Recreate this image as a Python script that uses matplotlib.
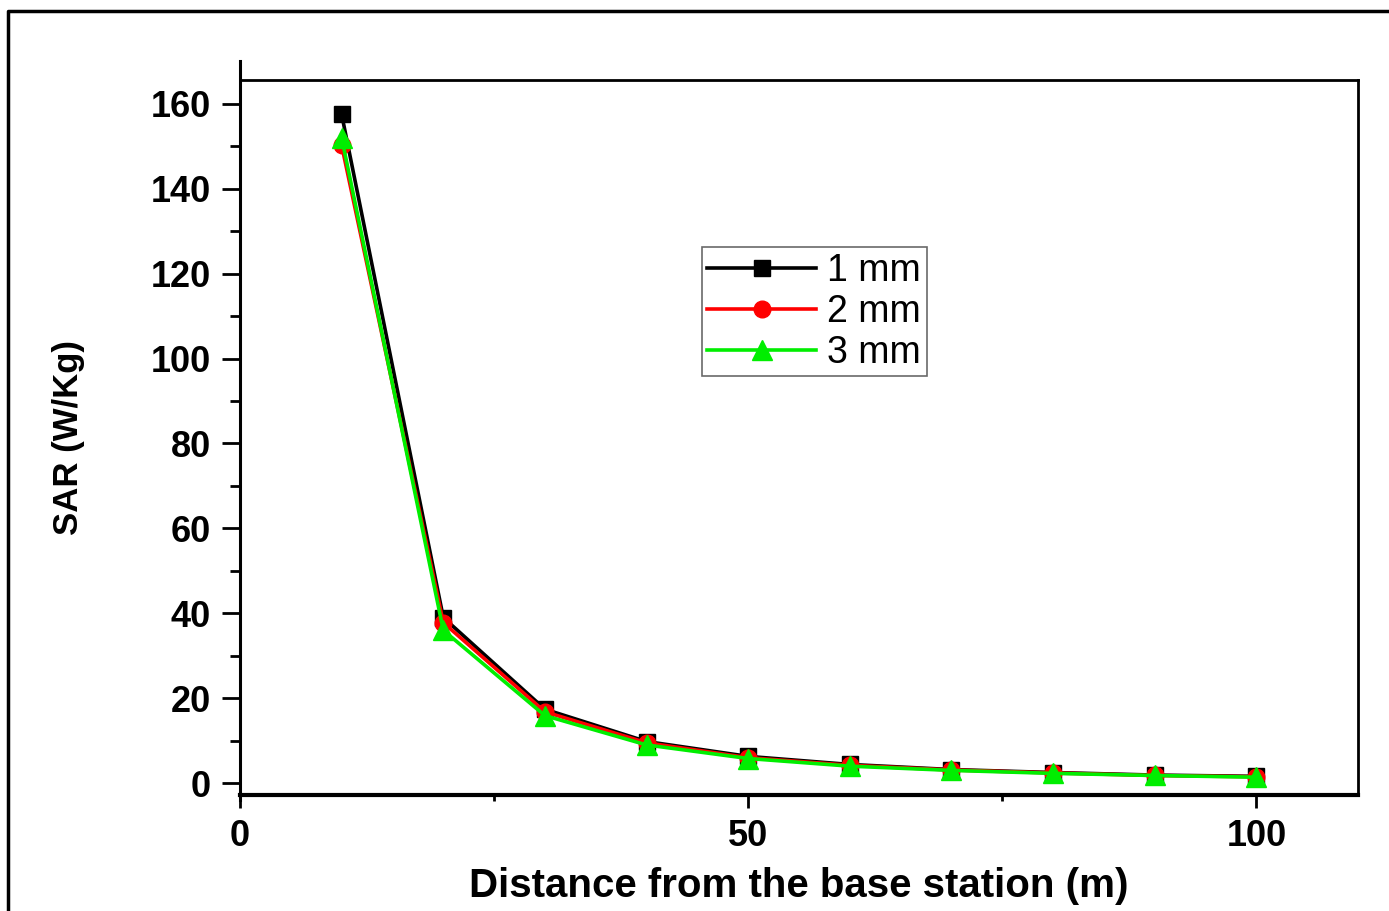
import matplotlib.pyplot as plt
from matplotlib.lines import Line2D
from matplotlib.ticker import MultipleLocator

plt.rcParams['font.family'] = ['Liberation Sans', 'DejaVu Sans']

# dane
distance = [10, 20, 30, 40, 50, 60, 70, 80, 90, 100]
sar_1mm = [157.5, 39.0, 17.4, 9.8, 6.3, 4.4, 3.2, 2.5, 1.9, 1.6]
sar_2mm = [150.2, 37.8, 16.8, 9.5, 6.0, 4.2, 3.1, 2.4, 1.8, 1.5]
sar_3mm = [152.0, 36.0, 15.9, 9.0, 5.8, 4.0, 3.0, 2.3, 1.8, 1.4]
labels = ['1 mm', '2 mm', '3 mm']

fig = plt.figure(figsize=(13.89, 9.11), dpi=100)
ax = fig.add_axes([0.1728, 0.1273, 0.8049, 0.7849])

ax.plot(distance, sar_1mm, color='black', lw=2.6, marker='s', ms=12, label=labels[0])
ax.plot(distance, sar_2mm, color='#ff0000', lw=2.6, marker='o', ms=12, label=labels[1])
ax.plot(distance, sar_3mm, color='#00ee00', lw=2.6, marker='^', ms=14, label=labels[2])

ax.set_xlim(0, 110)
ax.set_ylim(-2.8, 165.6)

ax.xaxis.set_major_locator(MultipleLocator(50))
ax.xaxis.set_minor_locator(MultipleLocator(25))
ax.yaxis.set_major_locator(MultipleLocator(20))
ax.yaxis.set_minor_locator(MultipleLocator(10))

ax.tick_params(axis='y', which='major', direction='out', length=13, width=2, labelsize=26, pad=8)
ax.tick_params(axis='y', which='minor', direction='out', length=7, width=2)
ax.tick_params(axis='x', which='major', direction='out', length=9, width=2, labelsize=26, pad=8)
ax.tick_params(axis='x', which='minor', direction='out', length=4, width=2)
for lab in ax.get_xticklabels() + ax.get_yticklabels():
    lab.set_fontweight('bold')

for side in ['top', 'right']:
    ax.spines[side].set_linewidth(2)
ax.spines['bottom'].set_linewidth(3)
ax.spines['left'].set_linewidth(2.2)
ax.spines['left'].set_bounds(-4, 170)

ax.set_xlabel('Distance from the base station (m)', fontsize=29, fontweight='bold')
ax.set_ylabel('SAR (W/Kg)', fontsize=25, fontweight='bold')
ax.xaxis.set_label_coords(0.5, -0.100)
ax.yaxis.set_label_coords(-0.139, 0.5)

leg = ax.legend(loc='upper left', bbox_to_anchor=(0.413, 0.766), fontsize=27,
                frameon=True, fancybox=False, edgecolor='#444444', handlelength=2.9,
                handletextpad=0.3, borderpad=0.15, labelspacing=0.13, borderaxespad=0)
leg.get_frame().set_linewidth(1.2)

# ramka wokół całego obrazka
fig.add_artist(Line2D([0.0058, 0.0058, 1.0], [0.0, 0.988, 0.988], color='black', lw=2.5,
                      transform=fig.transFigure))

fig.savefig('out.png', dpi=100)
